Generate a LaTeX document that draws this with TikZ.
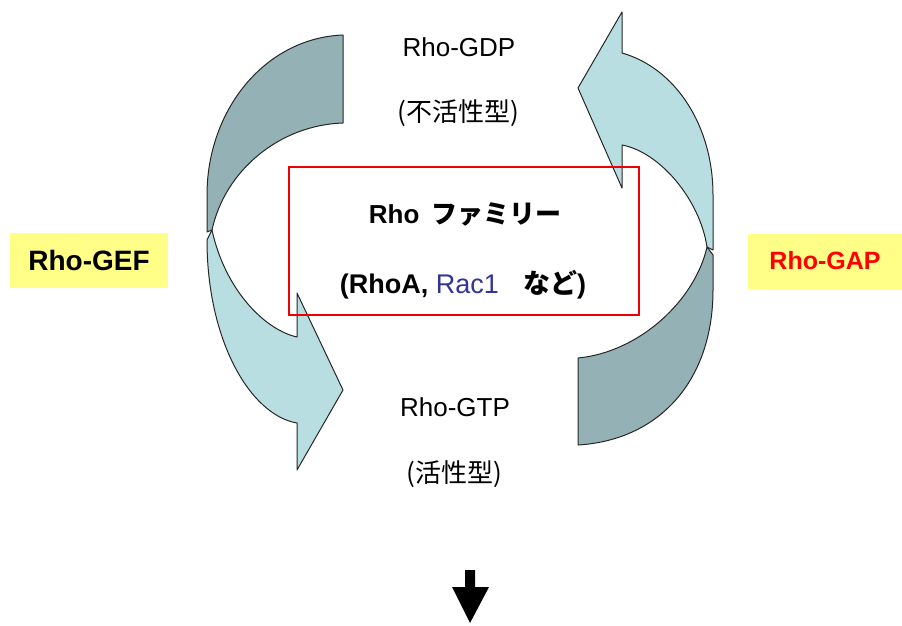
\documentclass[tikz,border=0pt]{standalone}
\usepackage{fontspec}
\setmainfont{Liberation Sans}
\newfontfamily\jp{Noto Sans CJK JP}
\definecolor{darkband}{RGB}{148,177,181}
\definecolor{lightband}{RGB}{184,222,226}
\definecolor{labelyellow}{RGB}{255,255,136}
\definecolor{racblue}{RGB}{51,51,153}
\definecolor{boxred}{RGB}{240,0,0}
\begin{document}
\begin{tikzpicture}[x=1pt,y=-1pt,
  band/.style={draw=black!85, line width=1pt, line join=round},
  statetext/.style={inner sep=0pt, font=\fontsize{26}{26}\selectfont},
  famtext/.style={inner sep=0pt, font=\fontsize{26}{26}\selectfont\bfseries},
  enzyme/.style={inner sep=0pt, minimum height=55pt, font=\fontsize{25}{25}\selectfont\bfseries, fill=labelyellow}]
\path[use as bounding box] (0,0) rectangle (902,626);
% left curved arrow (GEF)
\draw[band, fill=darkband] (343,35) .. controls (265,38) and (207,110) .. (207,195) -- (207,232) -- (212,230) .. controls (225,170) and (280,125) .. (343,123) -- cycle;
\draw[band, fill=lightband] (212,230) .. controls (225,290) and (265,330) .. (297,337) -- (297,293) -- (343,390) -- (297,470) -- (297,423) .. controls (250,415) and (207,340) .. (207,240) -- cycle;
% right curved arrow (GAP)
\draw[band, fill=lightband] (622,53) .. controls (675,68) and (713,125) .. (713,195) -- (713,250) -- (707,247) .. controls (700,200) and (660,152) .. (622,145) -- (622,188) -- (578,88) -- (622,12) -- cycle;
\draw[band, fill=darkband] (578,358) .. controls (640,352) and (695,300) .. (707,247) -- (713,255) -- (713,290) .. controls (713,380) and (660,440) .. (578,445) -- cycle;
% family box
\node[draw=boxred, line width=1.3pt, minimum width=350pt, minimum height=148pt] (fambox) at (464,241) {};
\node[famtext] (famname) at (465,215) {Rho\, {\jp ファミリー}};
\node[famtext, font=\fontsize{27}{27}\selectfont\bfseries] (members) at (463,285) {(RhoA, \textcolor{racblue}{\mdseries Rac1}\hspace{0.9em}{\jp など})};
% states
\node[statetext] (gdp) at (459,47) {Rho-GDP};
\node[statetext] (gdpj) at (458,113) {{\jp (不活性型)}};
\node[statetext] (gtp) at (455,407) {Rho-GTP};
\node[statetext] (gtpj) at (454,474) {{\jp (活性型)}};
% enzymes
\node[enzyme, minimum width=158pt, font=\fontsize{28}{28}\selectfont\bfseries] (gef) at (89,260) {Rho-GEF};
\node[enzyme, minimum width=154pt, text=red] (gap) at (825,261) {Rho-GAP};
% down arrow
\fill (465,570) -- (475,570) -- (475,587) -- (489,587) -- (470,623) -- (452,587) -- (465,587) -- cycle;
\end{tikzpicture}
\end{document}
